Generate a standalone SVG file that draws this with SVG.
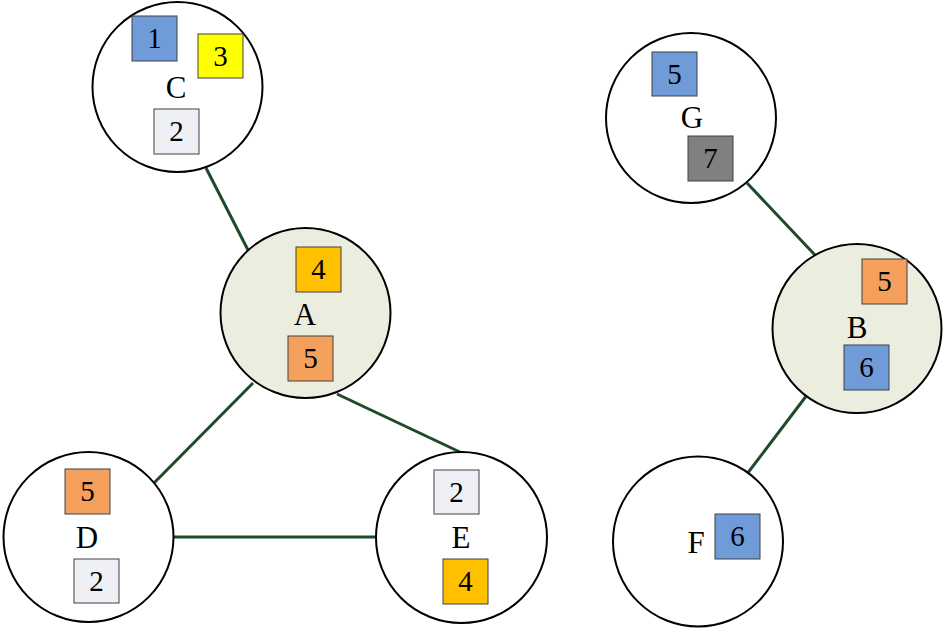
<svg xmlns="http://www.w3.org/2000/svg" width="944" height="629" viewBox="0 0 944 629">
<style>
.c{fill:#ffffff;stroke:#000;stroke-width:2}
.h{fill:#ebeedf;stroke:#000;stroke-width:2}
.b{stroke:#404040;stroke-width:1}
.blue{fill:#6f9bd8}.yel{fill:#ffff00}.lg{fill:#eef0f5}.or{fill:#f4a05c}.gd{fill:#ffc000}.gr{fill:#808080}
text{font-family:"Liberation Serif","DejaVu Serif",serif;text-anchor:middle;fill:#000}
.l{font-size:31px}.n{font-size:29px}
.e{stroke:#1e4a2a;stroke-width:3;fill:none}
</style>
<g id="connectors">
<line class="e" x1="206" y1="168" x2="249" y2="252"/>
<line class="e" x1="253" y1="383" x2="153" y2="484"/>
<line class="e" x1="337" y1="394" x2="462" y2="453"/>
<line class="e" x1="174" y1="537" x2="377" y2="537"/>
<line class="e" x1="747" y1="183" x2="815" y2="255"/>
<line class="e" x1="807" y1="395" x2="747" y2="474"/>
</g>
<g id="C">
<circle class="c" cx="177.5" cy="87" r="85"/>
<rect class="b blue" x="132" y="16" width="45" height="45"/><text class="n" x="154.5" y="48">1</text>
<rect class="b yel" x="198" y="34" width="45" height="44"/><text class="n" x="220.5" y="66">3</text>
<text class="l" x="176" y="98">C</text>
<rect class="b lg" x="154" y="109" width="45" height="45"/><text class="n" x="176.5" y="141">2</text>
</g>
<g id="A">
<circle class="h" cx="305.5" cy="313" r="85"/>
<rect class="b gd" x="296" y="247" width="45" height="45"/><text class="n" x="318.5" y="279">4</text>
<text class="l" x="305" y="325">A</text>
<rect class="b or" x="288" y="336" width="45" height="45"/><text class="n" x="310.5" y="368">5</text>
</g>
<g id="D">
<circle class="c" cx="88.5" cy="537" r="85"/>
<rect class="b or" x="65" y="469" width="45" height="45"/><text class="n" x="87.5" y="501">5</text>
<text class="l" x="87" y="548">D</text>
<rect class="b lg" x="74" y="559" width="45" height="44"/><text class="n" x="96.5" y="591">2</text>
</g>
<g id="E">
<circle class="c" cx="461.5" cy="537.5" r="85.5"/>
<rect class="b lg" x="434" y="470" width="45" height="44"/><text class="n" x="456.5" y="502">2</text>
<text class="l" x="461" y="548">E</text>
<rect class="b gd" x="443" y="559" width="45" height="45"/><text class="n" x="465.5" y="591">4</text>
</g>
<g id="G">
<circle class="c" cx="691" cy="118" r="85"/>
<rect class="b blue" x="652" y="52" width="45" height="44"/><text class="n" x="674.5" y="84">5</text>
<text class="l" x="692" y="128">G</text>
<rect class="b gr" x="688" y="136" width="45" height="45"/><text class="n" x="710.5" y="168">7</text>
</g>
<g id="B">
<circle class="h" cx="857" cy="328.5" r="84.5"/>
<rect class="b or" x="862" y="259" width="45" height="45"/><text class="n" x="884.5" y="291">5</text>
<text class="l" x="857" y="338">B</text>
<rect class="b blue" x="844" y="345" width="45" height="45"/><text class="n" x="866.5" y="377">6</text>
</g>
<g id="F">
<circle class="c" cx="698" cy="541.5" r="85"/>
<text class="l" x="696" y="553">F</text>
<rect class="b blue" x="715" y="514" width="45" height="45"/><text class="n" x="737.5" y="546">6</text>
</g>
</svg>
